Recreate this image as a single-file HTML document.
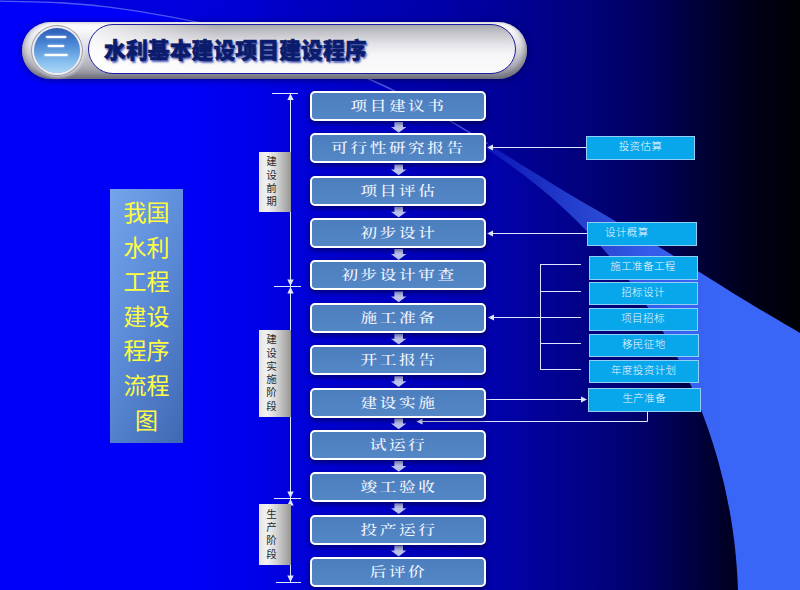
<!DOCTYPE html>
<html lang="zh-CN"><head><meta charset="utf-8"><title>水利基本建设项目建设程序</title>
<style>
html,body{margin:0;padding:0;}
body{width:800px;height:590px;overflow:hidden;position:relative;background:#0000f8;font-family:"Liberation Sans","Noto Sans CJK SC",sans-serif;}
#bg{position:absolute;left:0;top:0;}
.fb{position:absolute;left:310px;width:172px;height:26px;border:2px solid #fff;border-radius:5px;
 background:linear-gradient(#4c7ebd,#5487c6);box-shadow:0 2px 4px 1px rgba(0,0,50,.5);
 color:#f2f6ff;font-family:"Liberation Serif","Noto Serif CJK SC",serif;font-size:13px;font-weight:500;line-height:26px;text-align:center;white-space:nowrap;}
.fb span{display:inline-block;letter-spacing:2px;margin-right:-2px;transform:scaleX(1.28);transform-origin:50% 50%;}
.cb{position:absolute;height:22px;border:1px solid #8fd0f4;background:#08a6ea;color:#f2f8ff;font-size:10.5px;font-weight:300;letter-spacing:0.4px;line-height:19px;text-align:center;white-space:nowrap;}
.ph{position:absolute;left:259px;width:32px;background:linear-gradient(90deg,#e4e4e4 0%,#f2f2f2 25%,#d4d4d4 55%,#969696 100%);color:#2a2a2a;font-size:10.5px;line-height:13.3px;text-align:center;}
.ph span{display:block;width:25px;}
#side{position:absolute;left:110px;top:189px;width:73px;height:254px;background:linear-gradient(115deg,#74a4ea 0%,#5c8cd8 45%,#4068b2 100%);color:#ffff40;font-size:23px;line-height:34.6px;text-align:center;}
#side div{padding-top:7px;}
#pill{position:absolute;left:22px;top:21.5px;width:504.5px;height:57px;border-radius:28.5px;background:linear-gradient(#ffffff 0%,#fafafc 12%,#e2e2e8 40%,#b4b4be 75%,#82828e 100%);box-shadow:inset -3px -3px 5px rgba(90,90,100,.5),inset 3px 0 4px rgba(120,120,135,.45),0 1px 7px rgba(0,0,50,.55);}
#ball{position:absolute;left:34px;top:27.5px;width:46px;height:45px;border-radius:50%;background:linear-gradient(#2c5cb8 0%,#4a86d4 35%,#86bfee 75%,#acd8f6 100%);box-shadow:0 0 0 2px #ececf2,0 0 0 3px #9c9ca8,1px 2px 3px 3px rgba(255,255,255,.5);color:#fff;font-size:26px;line-height:38px;text-align:center;text-indent:-2px;text-shadow:0 0 2px #fff;}
#cap{position:absolute;left:88px;top:24px;width:426px;height:48px;border-radius:25.5px;border:1.5px solid #1c1ca0;background:linear-gradient(to right,rgba(255,255,255,.8) 0%,rgba(255,255,255,.6) 8%,rgba(255,255,255,0) 30%),linear-gradient(to bottom,#a8a8b0 0%,#c6c6cc 18%,#e6e6ea 42%,#f6f6f8 62%,#fbfbfc 100%);}
#ttl{position:absolute;left:104px;top:35.3px;-webkit-text-stroke:0.6px #0c1c6c;font-size:21.9px;font-weight:900;color:#0c1c6c;letter-spacing:0px;line-height:32px;white-space:nowrap;text-shadow:1.5px 1.5px 2px rgba(20,40,160,.75);}
</style></head><body>

<svg id="bg" width="800" height="590" viewBox="0 0 800 590">
<defs>
<linearGradient id="g0" x1="0" y1="0" x2="800" y2="0" gradientUnits="userSpaceOnUse">
<stop offset="0.0000" stop-color="#0000fa"/><stop offset="0.2250" stop-color="#0000f8"/><stop offset="0.3000" stop-color="#0000ed"/><stop offset="0.3500" stop-color="#0000e0"/><stop offset="0.3875" stop-color="#0000d6"/><stop offset="0.4500" stop-color="#0101ca"/><stop offset="0.5500" stop-color="#0101ba"/><stop offset="0.6250" stop-color="#0202a9"/><stop offset="0.6875" stop-color="#020295"/><stop offset="0.7500" stop-color="#020280"/><stop offset="0.8125" stop-color="#010164"/><stop offset="0.8750" stop-color="#00003a"/><stop offset="0.9400" stop-color="#000014"/><stop offset="1.0000" stop-color="#000000"/>
</linearGradient>
<linearGradient id="g1" x1="486" y1="0" x2="720" y2="0" gradientUnits="userSpaceOnUse">
<stop offset="0" stop-color="#3a66f8" stop-opacity="0.18"/><stop offset="0.35" stop-color="#3a66f8" stop-opacity="0.58"/><stop offset="0.7" stop-color="#3a66f8" stop-opacity="0.9"/><stop offset="1" stop-color="#3a66f8" stop-opacity="1"/>
</linearGradient>
<linearGradient id="g2" x1="0" y1="0" x2="0" y2="12" gradientUnits="userSpaceOnUse">
<stop offset="0" stop-color="#000060" stop-opacity="0.45"/><stop offset="1" stop-color="#000060" stop-opacity="0"/>
</linearGradient>
</defs>
<rect width="800" height="590" fill="url(#g0)"/>
<path d="M0.0,1.1 C10.0,1.4 40.0,1.6 60.0,2.8 C80.0,4.1 96.7,5.3 120.0,8.6 C143.3,12.0 171.7,16.3 200.0,22.8 C228.3,29.4 261.7,38.7 290.0,48.1 C318.3,57.6 346.7,69.3 370.0,79.5 C393.3,89.7 410.3,98.6 430.0,109.3 C449.7,120.0 478.3,137.9 488.0,143.7 C500.0,151.1 541.3,177.1 560.0,188.5 C578.7,199.9 583.9,202.5 600.0,212.0 C616.1,221.5 640.4,235.8 656.6,245.5 C672.8,255.2 682.1,261.2 697.0,270.5 C711.9,279.8 728.8,290.6 746.0,301.0 C763.2,311.4 791.0,327.7 800.0,333.0 L800,0 L0,0 Z" fill="#000030" fill-opacity="0.13"/>
<path d="M488.0,143.7 C500.0,151.1 541.3,177.1 560.0,188.5 C578.7,199.9 583.9,202.5 600.0,212.0 C616.1,221.5 640.4,235.8 656.6,245.5 C672.8,255.2 682.1,261.2 697.0,270.5 C711.9,279.8 728.8,290.6 746.0,301.0 C763.2,311.4 791.0,327.7 800.0,333.0 L800,590 L738.0,590 A542.5,542.5 0 0 0 488.0,150.1 Z" fill="url(#g1)"/>
<path d="M0.0,1.1 C10.0,1.4 40.0,1.6 60.0,2.8 C80.0,4.1 96.7,5.3 120.0,8.6 C143.3,12.0 171.7,16.3 200.0,22.8 C228.3,29.4 261.7,38.7 290.0,48.1 C318.3,57.6 346.7,69.3 370.0,79.5 C393.3,89.7 410.3,98.6 430.0,109.3 C449.7,120.0 478.3,137.9 488.0,143.7" fill="none" stroke="#9ab0ff" stroke-opacity="0.5" stroke-width="1.4"/>
<g stroke="#dfe6ff" stroke-width="1" fill="#dfe6ff">
<line x1="290.5" y1="93" x2="290.5" y2="582"/>
<line x1="272" y1="93.5" x2="298" y2="93.5"/>
<line x1="274" y1="286.5" x2="301" y2="286.5"/>
<line x1="274" y1="498.5" x2="301" y2="498.5"/>
<line x1="276" y1="582.5" x2="301" y2="582.5"/>
<path d="M290.5,93.5 l-3.2,6.5 h6.4 z" stroke="none"/>
<path d="M290.5,286.0 l-3.2,-6.5 h6.4 z" stroke="none"/>
<path d="M290.5,287.0 l-3.2,6.5 h6.4 z" stroke="none"/>
<path d="M290.5,498.0 l-3.2,-6.5 h6.4 z" stroke="none"/>
<path d="M290.5,499.0 l-3.2,6.5 h6.4 z" stroke="none"/>
<path d="M290.5,582.0 l-3.2,-6.5 h6.4 z" stroke="none"/>
<line x1="490" y1="147.5" x2="586" y2="147.5"/><path d="M487.0,147.5 l6,-3 v6 z" stroke="none"/>
<line x1="490" y1="233.5" x2="587" y2="233.5"/><path d="M487.0,233.5 l6,-3 v6 z" stroke="none"/>
<line x1="491" y1="317.5" x2="581" y2="317.5"/><path d="M488.0,317.5 l6,-3 v6 z" stroke="none"/>
<line x1="540.5" y1="264" x2="540.5" y2="369.5"/>
<line x1="540" y1="264.5" x2="581" y2="264.5"/>
<line x1="540" y1="291.5" x2="581" y2="291.5"/>
<line x1="540" y1="343.5" x2="581" y2="343.5"/>
<line x1="540" y1="369.5" x2="581" y2="369.5"/>
<line x1="486" y1="399.5" x2="583" y2="399.5"/><path d="M587.0,399.5 l-6,-3 v6 z" stroke="none"/>
<path d="M647.5,411 V421.5 H420" fill="none"/><path d="M416.5,421.5 l6,-3 v6 z" stroke="none"/>
</g>
<path d="M394.4,122.0 h8.6 v5 h3.4 l-7.7,5.8 l-7.7,-5.8 h3.4 z" fill="#bcc4ee"/>
<path d="M394.4,164.4 h8.6 v5 h3.4 l-7.7,5.8 l-7.7,-5.8 h3.4 z" fill="#bcc4ee"/>
<path d="M394.4,206.7 h8.6 v5 h3.4 l-7.7,5.8 l-7.7,-5.8 h3.4 z" fill="#bcc4ee"/>
<path d="M394.4,249.1 h8.6 v5 h3.4 l-7.7,5.8 l-7.7,-5.8 h3.4 z" fill="#bcc4ee"/>
<path d="M394.4,291.4 h8.6 v5 h3.4 l-7.7,5.8 l-7.7,-5.8 h3.4 z" fill="#bcc4ee"/>
<path d="M394.4,333.8 h8.6 v5 h3.4 l-7.7,5.8 l-7.7,-5.8 h3.4 z" fill="#bcc4ee"/>
<path d="M394.4,376.2 h8.6 v5 h3.4 l-7.7,5.8 l-7.7,-5.8 h3.4 z" fill="#bcc4ee"/>
<path d="M394.4,418.5 h8.6 v5 h3.4 l-7.7,5.8 l-7.7,-5.8 h3.4 z" fill="#bcc4ee"/>
<path d="M394.4,460.9 h8.6 v5 h3.4 l-7.7,5.8 l-7.7,-5.8 h3.4 z" fill="#bcc4ee"/>
<path d="M394.4,503.2 h8.6 v5 h3.4 l-7.7,5.8 l-7.7,-5.8 h3.4 z" fill="#bcc4ee"/>
<path d="M394.4,545.6 h8.6 v5 h3.4 l-7.7,5.8 l-7.7,-5.8 h3.4 z" fill="#bcc4ee"/>
</svg>
<div id="pill"></div><div id="cap"></div><div id="ball">三</div><div id="ttl">水利基本建设项目建设程序</div>
<div id="side"><div>我国<br>水利<br>工程<br>建设<br>程序<br>流程<br>图</div></div>
<div class="ph" style="top:152px;height:56.6px;padding-top:3.4px"><span>建</span><span>设</span><span>前</span><span>期</span></div>
<div class="ph" style="top:329.5px;height:83.7px;padding-top:3.8px"><span>建</span><span>设</span><span>实</span><span>施</span><span>阶</span><span>段</span></div>
<div class="ph" style="top:504px;height:57.1px;padding-top:3.9px"><span>生</span><span>产</span><span>阶</span><span>段</span></div>
<div class="fb" style="top:91.0px"><span>项目建议书</span></div>
<div class="fb" style="top:133.4px"><span>可行性研究报告</span></div>
<div class="fb" style="top:175.7px"><span>项目评估</span></div>
<div class="fb" style="top:218.1px"><span>初步设计</span></div>
<div class="fb" style="top:260.4px"><span>初步设计审查</span></div>
<div class="fb" style="top:302.8px"><span>施工准备</span></div>
<div class="fb" style="top:345.2px"><span>开工报告</span></div>
<div class="fb" style="top:387.5px"><span>建设实施</span></div>
<div class="fb" style="top:429.9px"><span>试运行</span></div>
<div class="fb" style="top:472.2px"><span>竣工验收</span></div>
<div class="fb" style="top:514.6px"><span>投产运行</span></div>
<div class="fb" style="top:557.0px"><span>后评价</span></div>
<div class="cb" style="left:586px;top:136px;width:107px;height:22px;">投资估算</div>
<div class="cb" style="left:587px;top:221.5px;width:108px;height:22px;text-align:left;text-indent:17px;">设计概算</div>
<div class="cb" style="left:588.5px;top:256px;width:107px;height:21.5px;">施工准备工程</div>
<div class="cb" style="left:588.5px;top:282px;width:107px;height:21px;">招标设计</div>
<div class="cb" style="left:588.5px;top:308px;width:107px;height:21px;">项目招标</div>
<div class="cb" style="left:589px;top:334px;width:107.5px;height:21px;">移民征地</div>
<div class="cb" style="left:589px;top:360px;width:107.5px;height:21px;">年度投资计划</div>
<div class="cb" style="left:588px;top:387.5px;width:110.5px;height:22px;">生产准备</div>
</body></html>
